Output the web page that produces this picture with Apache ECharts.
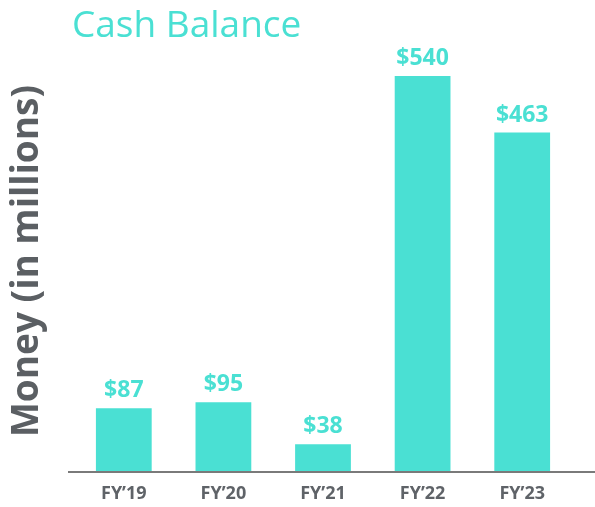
<!DOCTYPE html>
<html>
<head>
<meta charset="utf-8">
<script src="https://cdn.jsdelivr.net/npm/echarts@6/dist/echarts.min.js"></script>
<style>
html, body { margin: 0; padding: 0; background: #fff; }
#chart { width: 595px; height: 507px; }
</style>
</head>
<body>
<div id="chart"></div>
<script>
// 数据
var categories = ["FY\u201919", "FY\u201920", "FY\u201921", "FY\u201922", "FY\u201923"];
var cashValues = [87, 95, 38, 540, 463];

var teal = "#4ae0d3";
var myChart = echarts.init(document.getElementById("chart"));

var option = {
	backgroundColor: "#ffffff",
	animation: false,
	title: {
		text: "Cash Balance",
		left: 67,
		top: 3,
		textStyle: {
			fontFamily: "Open Sans",
			fontWeight: "normal",
			fontSize: 37,
			color: teal
		}
	},
	grid: {
		left: 74,
		right: 23,
		top: 76,
		bottom: 35,
		outerBoundsMode: "none"
	},
	xAxis: {
		type: "category",
		data: categories,
		axisLine: { show: false },
		axisTick: { show: false },
		axisLabel: {
			margin: 13,
			fontFamily: "Open Sans",
			fontWeight: "bold",
			fontSize: 18,
			color: "#5f6368"
		}
	},
	yAxis: {
		type: "value",
		min: 0,
		max: 540,
		name: "Money (in millions)",
		nameLocation: "middle",
		nameGap: 28,
		nameTextStyle: {
			fontFamily: "Open Sans",
			fontWeight: "bold",
			fontSize: 37,
			color: "#5b5f63",
			padding: [0, 0, 0, 26]
		},
		axisLine: { show: false },
		axisTick: { show: false },
		axisLabel: { show: false },
		splitLine: { show: false }
	},
	graphic: [{
		type: "line",
		shape: { x1: 68, y1: 472, x2: 595, y2: 472 },
		style: { stroke: "#7a7a7a", lineWidth: 2 },
		z: 10
	}],
	series: [{
		type: "bar",
		data: cashValues,
		barWidth: "56%",
		itemStyle: { color: teal },
		label: {
			show: true,
			position: "top",
			distance: 6,
			formatter: "${c}",
			fontFamily: "Open Sans",
			fontWeight: "bold",
			fontSize: 23,
			color: teal
		}
	}]
};
myChart.setOption(option);
</script>
</body>
</html>
